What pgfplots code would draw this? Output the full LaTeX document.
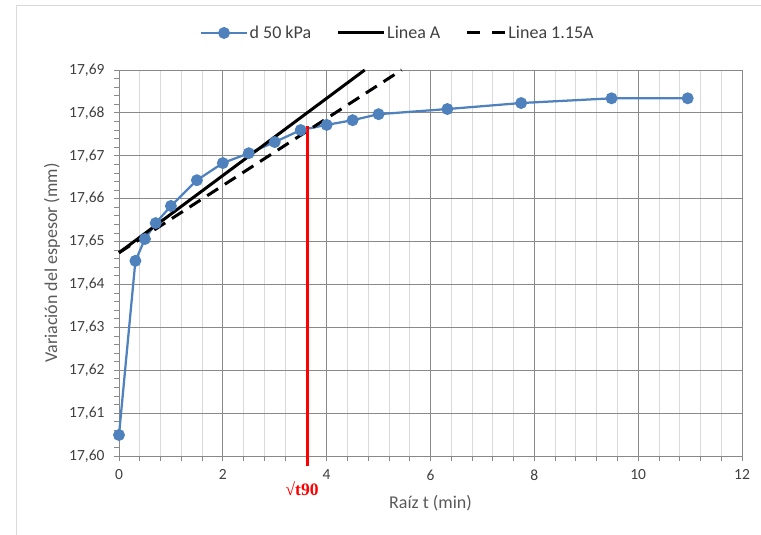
\documentclass[border=0pt]{standalone}
\usepackage{pgfplots}
\pgfplotsset{compat=1.18}
\usepackage{fontspec}
\setmainfont{Carlito}
\newfontfamily\serifb{Liberation Serif}
\definecolor{serblue}{HTML}{4F81BD}
\definecolor{majgrid}{HTML}{898989}
\definecolor{mingrid}{HTML}{D9D9D9}
\definecolor{frm}{HTML}{D9D9D9}
\definecolor{txt}{HTML}{404040}
\definecolor{ttl}{HTML}{595959}
\pgfplotsset{dashleg/.code={\pgfplotsset{legend image code/.code={\draw[##1, dash pattern=on 13pt off 12pt] (0pt,0pt) -- (38pt,0pt);}}}}
\begin{document}
\begin{tikzpicture}[x=1pt,y=1pt]
\useasboundingbox (0,0) rectangle (761,-535);
\draw[frm, line width=1pt] (16,-540) -- (16,-6) -- (770,-6);
\begin{axis}[
  at={(119pt,-456pt)}, anchor=south west,
  scale only axis, width=623pt, height=386pt,
  xmin=0, xmax=12, ymin=17.60, ymax=17.69,
  clip=false,
  xtick={0,2,4,6,8,10,12},
  ytick={17.60,17.61,17.62,17.63,17.64,17.65,17.66,17.67,17.68,17.69},
  minor x tick num=4, minor y tick num=4,
  xmajorgrids=true, xminorgrids=true, ymajorgrids=true, yminorgrids=false,
  major grid style={majgrid, line width=0.8pt},
  minor grid style={mingrid, line width=0.8pt},
  axis line style={majgrid, line width=0.8pt},
  every tick/.style={majgrid, line width=0.8pt},
  tick align=outside, major tick length=5pt, minor tick length=5pt,
  xtick pos=bottom, ytick pos=left,
  /pgf/number format/assume math mode=true,
  tick label style={font=\fontsize{15.5}{18}\selectfont, text=txt},
  yticklabel style={/pgf/number format/.cd, fixed, fixed zerofill, precision=2, use comma, 1000 sep={}, /tikz/.cd, xshift=-6pt},
  xticklabel style={yshift=-5pt},
  xlabel={Raíz t (min)}, ylabel={Variación del espesor (mm)},
  label style={font=\fontsize{18}{21}\selectfont, text=ttl},
  x label style={at={(axis description cs:0.5,-0.1218)}, anchor=center},
  y label style={at={(axis description cs:-0.1075,0.5)}, anchor=center, rotate=0},
  legend columns=3,
  legend style={at={(axis description cs:0.447,1.096)}, anchor=center, draw=none, fill=none,
    font=\fontsize{18}{21}\selectfont, text=txt,
    nodes={inner sep=1.5pt},
    /tikz/every even column/.append style={column sep=24pt}},
  legend image code/.code={\draw[mark repeat=2, mark phase=2, #1] plot coordinates {(0pt,0pt) (23pt,0pt) (46pt,0pt)};},
]
\addplot[serblue, line width=2.25pt, mark=*, mark size=4.8pt, mark options={fill=serblue, draw=serblue}]
coordinates {
(0,17.6049) (0.316,17.6455) (0.5,17.6506) (0.707,17.6543) (1,17.6583)
(1.5,17.6643) (2,17.6683) (2.5,17.6706) (3,17.6732) (3.5,17.6760)
(4,17.6772) (4.5,17.6783) (5,17.6797) (6.325,17.6809) (7.746,17.6823)
(9.487,17.6834) (10.954,17.6834)};
\addlegendentry{d 50 kPa}
\addplot[black, line width=3pt] coordinates {(0,17.6474) (4.733,17.69)};
\addlegendentry{Linea A}
\addplot[black, line width=3pt, dash pattern=on 13pt off 8pt, dashleg]
  coordinates {(0,17.6474) (5.443,17.69)};
\addlegendentry{Linea 1.15A}
\addplot[red, line width=3pt, forget plot] coordinates {(3.636,17.5977) (3.636,17.6770)};
\node[text=red, font=\serifb\bfseries\fontsize{17.5}{20}\selectfont, anchor=center] at (axis cs:3.526,17.5925) {√t90};
\end{axis}
\end{tikzpicture}
\end{document}
